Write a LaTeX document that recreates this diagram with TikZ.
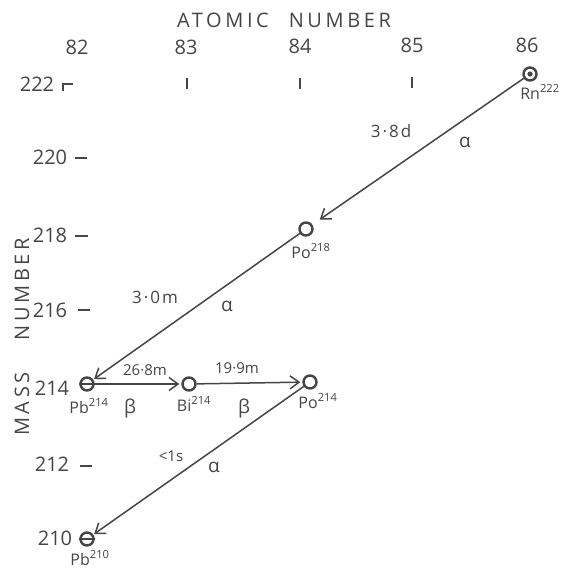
\documentclass[tikz,border=0pt]{standalone}
\usepackage{fontspec}
\setmainfont{Open Sans}
\newfontfamily\spaced[LetterSpace=18]{Open Sans}
\newfontfamily\wide[LetterSpace=12]{Open Sans}
\usetikzlibrary{arrows.meta}
\definecolor{ink}{HTML}{454545}
\begin{document}
\begin{tikzpicture}[x=1pt,y=-1pt,
  every node/.style={text=ink, inner sep=1pt},
  axislbl/.style={font=\spaced\fontsize{20}{22}\selectfont},
  numlbl/.style={font=\fontsize{20}{22}\selectfont},
  nucname/.style={font=\fontsize{16}{18}\selectfont},
  halflife/.style={font=\fontsize{15}{17}\selectfont},
  bighalflife/.style={font=\wide\fontsize{17}{19}\selectfont},
  greek/.style={font=\fontsize{19}{21}\selectfont},
  nuc/.style={circle, draw=ink, line width=2.4pt, minimum size=13pt, inner sep=0pt},
  arr/.style={draw=ink, line width=1.5pt, -{Straight Barb[length=9pt,width=13pt,line width=1.5pt]}},
  tickmark/.style={draw=ink, line width=1.5pt}]
\useasboundingbox (0,0) rectangle (562,570);
% axis titles
\node[axislbl] (xt) at (284,20) {ATOMIC\hspace{1em}NUMBER};
\node[axislbl, rotate=90] (yt) at (22,337) {MASS\hspace{1.6em}NUMBER};
% atomic numbers
\node[numlbl] (z82) at (77,47) {82};
\node[numlbl] (z83) at (186,47) {83};
\node[numlbl] (z84) at (300,46) {84};
\node[numlbl] (z85) at (412,45) {85};
\node[numlbl] (z86) at (527,45) {86};
% mass numbers
\node[numlbl] (m222) at (37,84) {222};
\node[numlbl] (m220) at (50,157) {220};
\node[numlbl] (m218) at (50,235) {218};
\node[numlbl] (m216) at (50,310) {216};
\node[numlbl] (m214) at (52,388) {214};
\node[numlbl] (m212) at (52,464) {212};
\node[numlbl] (m210) at (55,538) {210};
% tick marks
\draw[tickmark] (63,91) -- (63,84) -- (73,84);
\draw[tickmark] (187,78) -- (187,89);
\draw[tickmark] (300,78) -- (300,89);
\draw[tickmark] (412,77) -- (412,88);
\draw[tickmark] (75,158) -- (87,158);
\draw[tickmark] (75,236) -- (88,236);
\draw[tickmark] (78,310) -- (90,310);
\draw[tickmark] (80,466) -- (92,466);
% nuclides
\node[nuc] (rn) at (530,74) {};
\fill[ink] (rn) circle (2.6pt);
\node[nuc] (po218) at (306,229) {};
\node[nuc] (pb214) at (87,384) {};
\draw[ink, line width=1.8pt] (pb214.west) -- (pb214.east);
\node[nuc] (bi214) at (189,384) {};
\node[nuc] (po214) at (310,382) {};
\node[nuc] (pb210) at (87,539) {};
\draw[ink, line width=1.8pt] (pb210.west) -- (pb210.east);
% nuclide names
\node[nucname] (rnl) at (540,92) {Rn\textsuperscript{222}};
\node[nucname] (po218l) at (311,251) {Po\textsuperscript{218}};
\node[nucname] (pb214l) at (89,406) {Pb\textsuperscript{214}};
\node[nucname] (bi214l) at (194,404) {Bi\textsuperscript{214}};
\node[nucname] (po214l) at (318,401) {Po\textsuperscript{214}};
\node[nucname] (pb210l) at (90,558) {Pb\textsuperscript{210}};
% decays
\draw[arr, shorten >=9pt] (rn) -- (po218);
\draw[arr, shorten >=1pt] (po218) -- (pb214);
\draw[arr, shorten >=2pt] (pb214) -- (bi214);
\draw[arr, shorten >=2pt] (bi214) -- (po214);
\draw[arr, shorten >=1pt] (po214) -- (pb210);
% decay labels
\node[bighalflife] (t1) at (391,131) {3·8d};
\node[greek] (a1) at (465,142) {α};
\node[bighalflife] (t2) at (155,297) {3·0m};
\node[greek] (a2) at (227,306) {α};
\node[halflife] (t3) at (145,370) {26·8m};
\node[greek] (b1) at (130,409) {β};
\node[halflife] (t4) at (237,368) {19·9m};
\node[greek] (b2) at (244,409) {β};
\node[halflife] (t5) at (171,456) {<1s};
\node[greek] (a3) at (214,467) {α};
\end{tikzpicture}
\end{document}
